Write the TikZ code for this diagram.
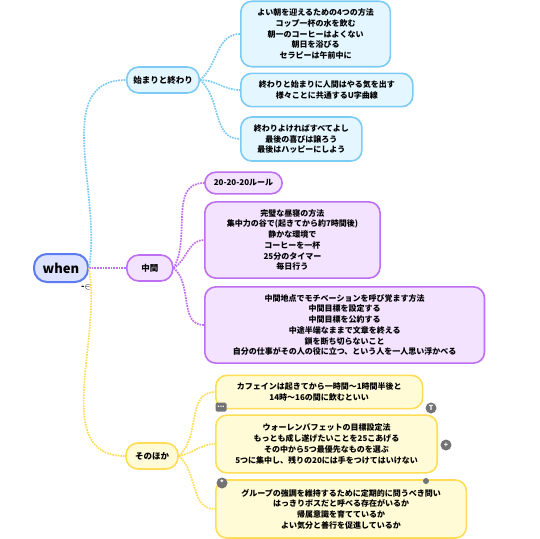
\documentclass[tikz,border=0pt]{standalone}
\usepackage{fontspec}
\setmainfont{Noto Sans CJK JP}
\usepackage{tikz}
\usetikzlibrary{positioning}
\usepackage{xcolor}

\definecolor{whenfill}{HTML}{DDE3FF}
\definecolor{whenline}{HTML}{5B7BF2}
\definecolor{startfill}{HTML}{E4F6FF}
\definecolor{startline}{HTML}{7CCBF5}
\definecolor{midfill}{HTML}{F3E3FF}
\definecolor{midline}{HTML}{BE6EF2}
\definecolor{otherfill}{HTML}{FFFBD6}
\definecolor{otherline}{HTML}{FFDD55}

\begin{document}
\begin{tikzpicture}[x=1pt, y=-1pt, font=\bfseries\fontsize{8}{10.7}\selectfont]

\tikzstyle{branch}=[draw, rounded corners=12pt, line width=1.6pt, inner xsep=6.5pt, minimum width=46pt, minimum height=26pt, font=\bfseries\fontsize{8.5}{11}\selectfont]
\tikzstyle{leaf}=[draw, rounded corners=11pt, line width=1.6pt, align=center, inner xsep=18pt, inner ysep=7.5pt, anchor=west]
\tikzstyle{link}=[densely dotted, line width=1.7pt]
\tikzstyle{icon}=[circle, fill=black!55, text=white, inner sep=0pt, minimum size=11pt, font=\bfseries\fontsize{7}{7}\selectfont]

\useasboundingbox (0,0) rectangle (540,538);

\node[draw=whenline, fill=whenfill, rounded corners=13pt, line width=2pt, minimum width=54pt, minimum height=28pt, font=\bfseries\fontsize{13}{13}\selectfont] (When) at (61,268) {when};

\node[branch, draw=startline, fill=startfill] (Start) at (163,80) {始まりと終わり};
\node[branch, draw=midline, fill=midfill] (Middle) [right=37pt of When] {中間};
\node[branch, draw=otherline, fill=otherfill, inner xsep=9pt] (Other) at (152,456) {そのほか};

% 始まりと終わり
\node[leaf, draw=startline, fill=startfill, inner xsep=16.5pt] (MorningTips) at (240,34) {よい朝を迎えるための4つの方法\\コップ一杯の水を飲む\\朝一のコーヒーはよくない\\朝日を浴びる\\セラピーは午前中に};
\node[leaf, draw=startline, fill=startfill] (UCurve) at (240,90) {終わりと始まりに人間はやる気を出す\\様々ことに共通するU字曲線};
\node[leaf, draw=startline, fill=startfill, inner xsep=13pt] (HappyEnd) at (240,139) {終わりよければすべてよし\\最後の喜びは譲ろう\\最後はハッピーにしよう};

% 中間
\node[leaf, draw=midline, fill=midfill, inner xsep=9pt] (EyeRule) at (204,183) {20-20-20ルール};
\node[leaf, draw=midline, fill=midfill, inner xsep=22pt] (Nap) at (204,240) {完璧な昼寝の方法\\集中力の谷で(起きてから約7時間後)\\静かな環境で\\コーヒーを一杯\\25分のタイマー\\毎日行う};
\node[leaf, draw=midline, fill=midfill, inner xsep=28pt] (Motivation) at (204,325) {中間地点でモチベーションを呼び覚ます方法\\中間目標を設定する\\中間目標を公約する\\中途半端なままで文章を終える\\鎖を断ち切らないこと\\自分の仕事がその人の役に立つ、という人を一人思い浮かべる};

% そのほか
\node[leaf, draw=otherline, fill=otherfill, inner xsep=21pt] (Caffeine) at (215,392) {カフェインは起きてから一時間～1時間半後と\\14時～16の間に飲むといい};
\node[leaf, draw=otherline, fill=otherfill, inner xsep=19.5pt, inner ysep=9pt] (Buffett) at (215,444) {ウォーレンバフェットの目標設定法\\もっとも成し遂げたいことを25こあげる\\その中から5つ最優先なものを選ぶ\\5つに集中し、残りの20には手をつけてはいけない};
\node[leaf, draw=otherline, fill=otherfill, inner xsep=25.5pt, inner ysep=9pt] (Group) at (215,509) {グループの強調を維持するために定期的に問うべき問い\\はっきりボスだと呼べる存在がいるか\\帰属意識を育てているか\\よい気分と善行を促進しているか};

\path[link]
(When.east) edge[startline, out=80, in=180] (Start.west)
(When.east) edge[midline] (Middle.west)
(When.east) edge[otherline, out=-80, in=180] (Other.west)

(Start.east) edge[startline, out=40, in=180] (MorningTips.west)
(Start.east) edge[startline, out=0, in=180] (UCurve.west)
(Start.east) edge[startline, out=-40, in=180] (HappyEnd.west)

(Middle.east) edge[midline, out=60, in=180] (EyeRule.west)
(Middle.east) edge[midline, out=30, in=180] (Nap.west)
(Middle.east) edge[midline, out=-40, in=180] (Motivation.west)

(Other.east) edge[otherline, out=40, in=180] (Caffeine.west)
(Other.east) edge[otherline, out=10, in=180] (Buffett.west)
(Other.east) edge[otherline, out=-40, in=180] (Group.west);

% small icons
\node[icon, rectangle, rounded corners=1.5pt, minimum width=11pt, minimum height=9pt] (MoreIcon) at (221,407) {...};
\node[icon] (TopicIcon) at (431,408) {T};
\node[icon] (PlusIcon) at (446,445) {+};
\node[icon] (StarIcon) at (222,483) {*};
\node[icon, minimum size=6pt] (TabIcon) at (426,481) {};
\node[inner sep=0pt, font=\bfseries\fontsize{9}{9}\selectfont] (Fold) at (86,287) {-$\in$};

\end{tikzpicture}
\end{document}
